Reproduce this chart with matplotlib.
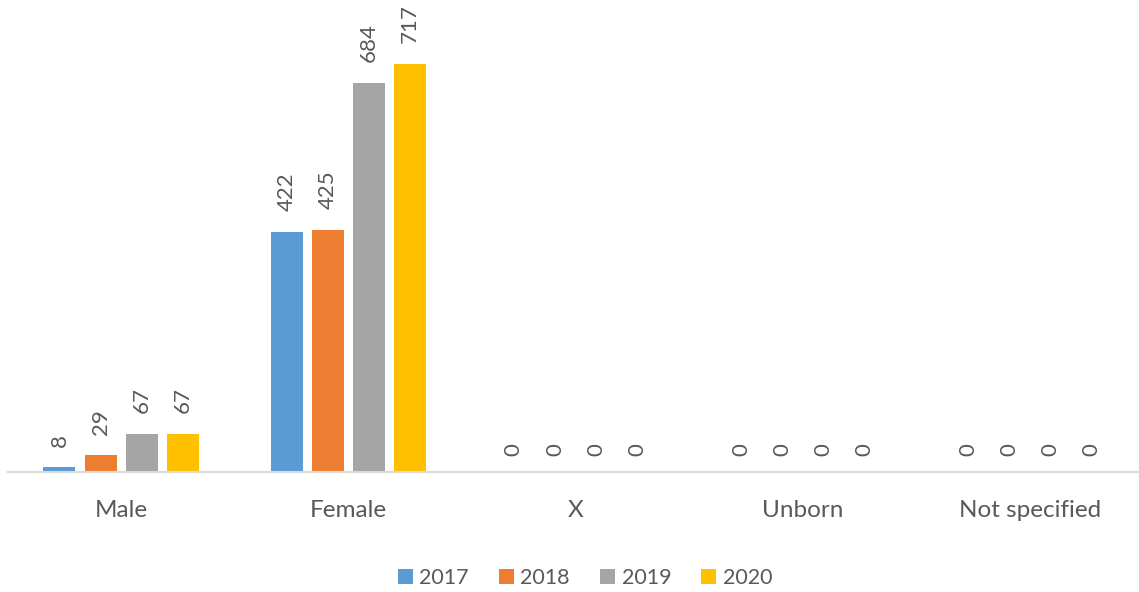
import numpy as np
import matplotlib.pyplot as plt

plt.rcParams['font.family'] = ['Lato', 'DejaVu Sans']

categories = ["Male", "Female", "X", "Unborn", "Not specified"]
years = ["2017", "2018", "2019", "2020"]
values = {
    "2017": [8, 422, 0, 0, 0],
    "2018": [29, 425, 0, 0, 0],
    "2019": [67, 684, 0, 0, 0],
    "2020": [67, 717, 0, 0, 0],
}
colors = ["#5B9BD5", "#ED7D31", "#A5A5A5", "#FFC000"]
text_col = "#595959"

fig = plt.figure(figsize=(11.39, 5.92), dpi=100)
ax = fig.add_axes([7.5/1139, 120/592, 1136/1139, 472/592])

x = np.arange(len(categories))
w = 0.141
step = 0.181
for i, yr in enumerate(years):
    pos = x + (i - 1.5) * step
    bars = ax.bar(pos, values[yr], w, color=colors[i], label=yr)
    for b, v in zip(bars, values[yr]):
        off = 15 if v > 0 else 11.5
        ax.annotate(str(v), (b.get_x() + b.get_width()/2, v),
                    xytext=(0, off), textcoords="offset points",
                    rotation=90, ha="center", va="bottom",
                    fontsize=16, color=text_col)

ax.set_xlim(-0.5, 4.5)
ax.set_ylim(0, 829)
ax.set_xticks(x)
ax.set_xticklabels(categories, fontsize=17.5, color=text_col)
ax.tick_params(axis="x", length=0, pad=20)
ax.set_yticks([])
for s in ["top", "left", "right"]:
    ax.spines[s].set_visible(False)
ax.spines["bottom"].set_color("#D9D9D9")
ax.spines["bottom"].set_linewidth(1.5)

leg = fig.legend(loc="center", bbox_to_anchor=(585/1139, 1 - 578/592), ncol=4,
                 frameon=False, fontsize=15.5, handlelength=0.7, handleheight=0.7,
                 handletextpad=0.3, columnspacing=1.4)
for t in leg.get_texts():
    t.set_color(text_col)

fig.savefig("out.png", dpi=100)
